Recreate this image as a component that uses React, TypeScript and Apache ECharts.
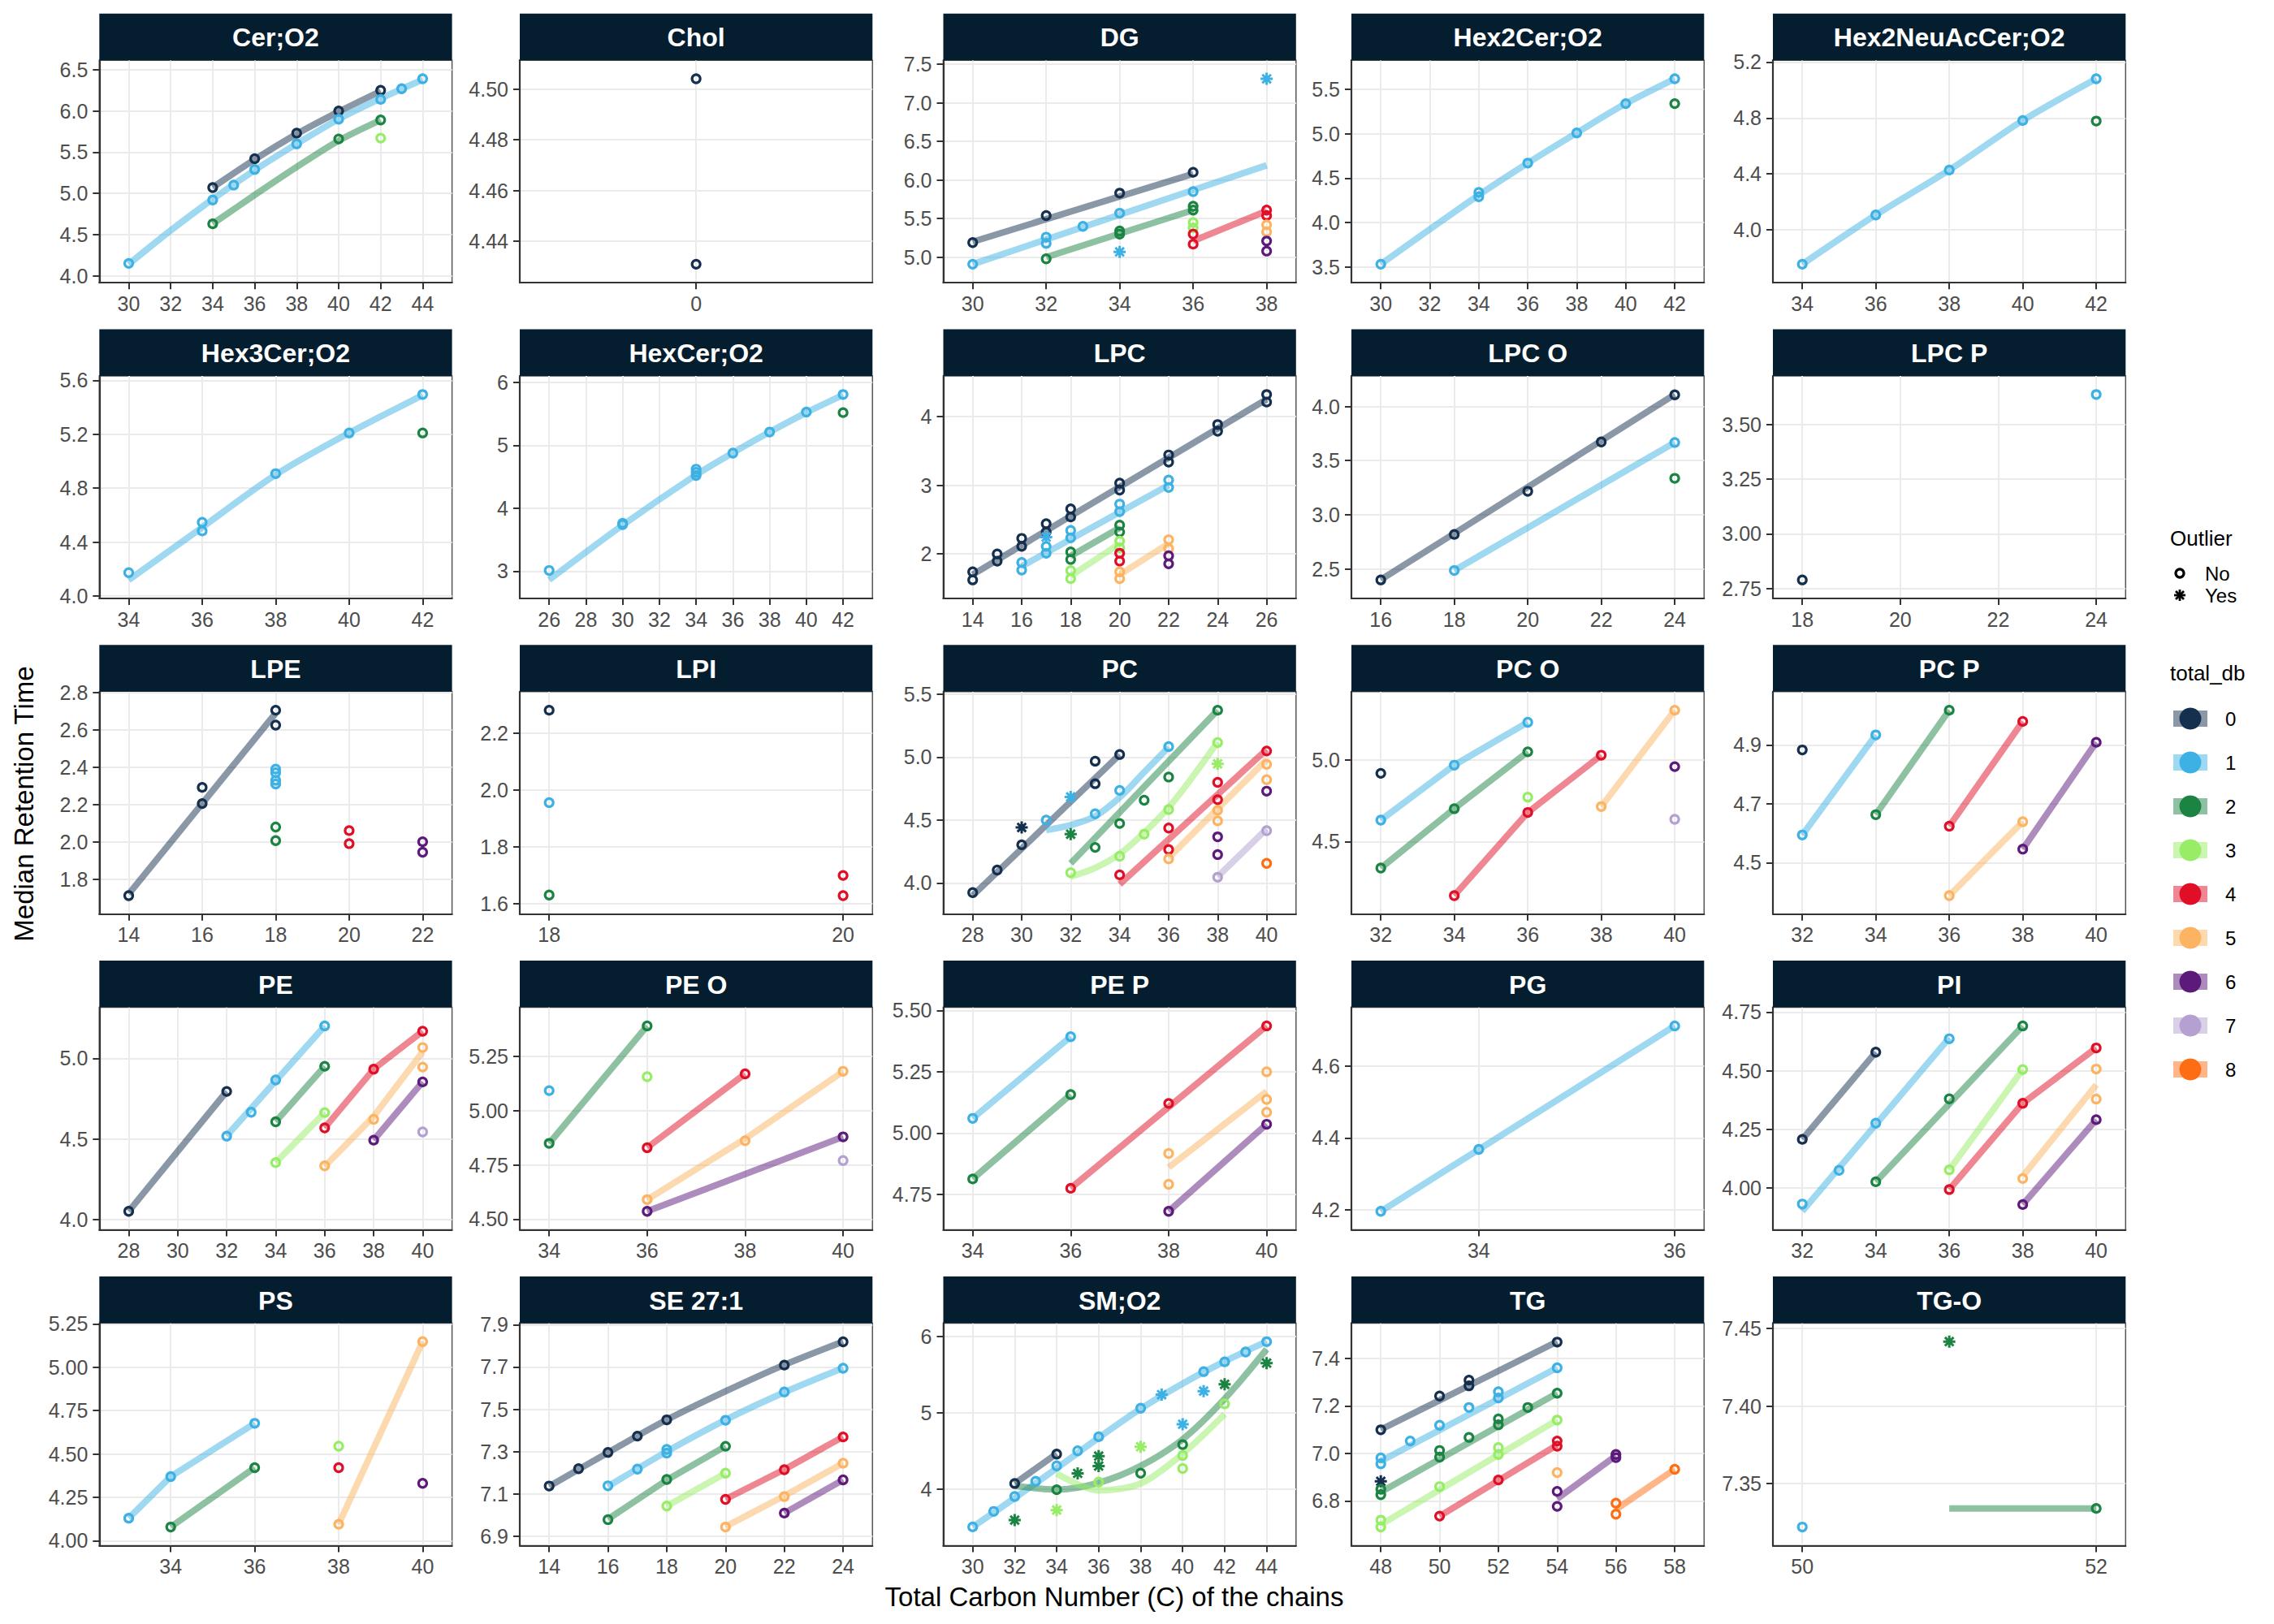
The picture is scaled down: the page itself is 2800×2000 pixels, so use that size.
import React, { useEffect, useRef } from "react";
import * as echarts from "echarts";

// ---------------- data ----------------
const dbColors = ["#152f4f", "#3db1e3", "#1c8443", "#97ed66", "#e00f27", "#fcb462", "#5c1a7b", "#b4a1d1", "#fd6e14"];
const dbLabels = ["0", "1", "2", "3", "4", "5", "6", "7", "8"];

const panelNames = ["Cer;O2", "Chol", "DG", "Hex2Cer;O2", "Hex2NeuAcCer;O2", "Hex3Cer;O2", "HexCer;O2", "LPC", "LPC O", "LPC P", "LPE", "LPI", "PC", "PC O", "PC P", "PE", "PE O", "PE P", "PG", "PI", "PS", "SE 27:1", "SM;O2", "TG", "TG-O"];

// points: [carbon, median RT, total_db, outlier(1=yes)]
const cerO2Points = [[30,4.15,1,0],[34,4.92,1,0],[35,5.10,1,0],[36,5.29,1,0],[38,5.60,1,0],[40,5.90,1,0],[42,6.14,1,0],[43,6.27,1,0],[44,6.39,1,0],[34,5.07,0,0],[36,5.42,0,0],[38,5.73,0,0],[40,6.00,0,0],[42,6.25,0,0],[34,4.63,2,0],[40,5.66,2,0],[42,5.89,2,0],[42,5.67,3,0]];
const cerO2Smooth = [[0,[[34,5.07],[36,5.41],[38,5.72],[40,5.99],[42,6.24]]],[1,[[30,4.14],[32,4.55],[34,4.93],[36,5.28],[38,5.60],[40,5.90],[42,6.15],[44,6.38]]],[2,[[34,4.63],[36,4.98],[38,5.32],[40,5.64],[42,5.89]]]];

const cholPoints = [[0,4.504,0,0],[0,4.431,0,0]];
const cholSmooth = [];

const dgPoints = [[30,5.19,0,0],[32,5.54,0,0],[34,5.83,0,0],[36,6.10,0,0],[30,4.91,1,0],[32,5.26,1,0],[32,5.18,1,0],[33,5.40,1,0],[34,5.57,1,0],[36,5.85,1,0],[34,5.07,1,1],[38,7.31,1,1],[32,4.98,2,0],[34,5.34,2,0],[34,5.30,2,0],[36,5.66,2,0],[36,5.61,2,0],[36,5.45,3,0],[36,5.38,3,0],[36,5.30,4,0],[36,5.17,4,0],[38,5.61,4,0],[38,5.54,4,0],[38,5.42,5,0],[38,5.33,5,0],[38,5.21,6,0],[38,5.08,6,0]];
const dgSmooth = [[0,[[30,5.20],[36,6.08]]],[1,[[30,4.91],[38,6.19]]],[2,[[32,5.00],[36,5.61]]],[4,[[36,5.21],[38,5.60]]]];

const hex2CerPoints = [[30,3.53,1,0],[34,4.34,1,0],[34,4.29,1,0],[36,4.67,1,0],[38,5.01,1,0],[40,5.34,1,0],[42,5.62,1,0],[42,5.34,2,0]];
const hex2CerSmooth = [[1,[[30,3.53],[34,4.31],[36,4.67],[38,5.01],[40,5.34],[42,5.62]]]];

const hex2NeuPoints = [[34,3.755,1,0],[36,4.107,1,0],[38,4.428,1,0],[40,4.782,1,0],[42,5.08,1,0],[42,4.778,2,0]];
const hex2NeuSmooth = [[1,[[34,3.755],[36,4.107],[38,4.428],[40,4.782],[42,5.08]]]];

const hex3CerPoints = [[34,4.174,1,0],[36,4.547,1,0],[36,4.483,1,0],[38,4.908,1,0],[40,5.21,1,0],[42,5.495,1,0],[42,5.21,2,0]];
const hex3CerSmooth = [[1,[[34,4.12],[36,4.51],[38,4.90],[40,5.21],[42,5.49]]]];

const hexCerPoints = [[26,3.01,1,0],[30,3.74,1,0],[30,3.76,1,0],[34,4.62,1,0],[34,4.57,1,0],[34,4.52,1,0],[36,4.876,1,0],[38,5.21,1,0],[40,5.528,1,0],[42,5.807,1,0],[42,5.519,2,0]];
const hexCerSmooth = [[1,[[26,2.86],[30,3.73],[34,4.53],[36,4.88],[38,5.21],[40,5.52],[42,5.80]]]];

const lpcPoints = [[14,1.739,0,0],[14,1.622,0,0],[15,2.0,0,0],[15,1.895,0,0],[16,2.226,0,0],[16,2.11,0,0],[17,2.44,0,0],[17,2.32,0,0],[18,2.655,0,0],[18,2.538,0,0],[20,3.03,0,0],[20,2.93,0,0],[22,3.44,0,0],[22,3.337,0,0],[24,3.883,0,0],[24,3.786,0,0],[26,4.32,0,0],[26,4.21,0,0],[16,1.875,1,0],[16,1.766,1,0],[17,2.11,1,0],[17,2.01,1,0],[17,2.245,1,1],[18,2.343,1,0],[18,2.234,1,0],[20,2.725,1,0],[20,2.616,1,0],[22,3.076,1,0],[22,2.967,1,0],[18,2.03,2,0],[18,1.92,2,0],[20,2.42,2,0],[20,2.32,2,0],[18,1.758,3,0],[18,1.64,3,0],[20,2.187,3,0],[20,2.09,3,0],[20,2.01,4,0],[20,1.895,4,0],[20,1.739,5,0],[20,1.64,5,0],[22,2.207,5,0],[22,2.078,5,0],[22,1.973,6,0],[22,1.856,6,0]];
const lpcSmooth = [[0,[[14,1.70],[26,4.25]]],[1,[[16,1.82],[22,3.00]]],[2,[[18,1.97],[20,2.38]]],[3,[[18,1.68],[20,2.15]]],[5,[[20,1.70],[22,2.15]]]];

const lpcOPoints = [[16,2.398,0,0],[18,2.818,0,0],[20,3.216,0,0],[22,3.672,0,0],[24,4.107,0,0],[18,2.485,1,0],[24,3.667,1,0],[24,3.336,2,0]];
const lpcOSmooth = [[0,[[16,2.40],[24,4.11]]],[1,[[18,2.485],[24,3.667]]]];

const lpcPPoints = [[18,2.79,0,0],[24,3.636,1,0]];
const lpcPSmooth = [];

const lpePoints = [[14,1.711,0,0],[16,2.292,0,0],[16,2.205,0,0],[18,2.706,0,0],[18,2.626,0,0],[18,2.39,1,0],[18,2.37,1,0],[18,2.33,1,0],[18,2.31,1,0],[18,2.079,2,0],[18,2.006,2,0],[20,2.06,4,0],[20,1.99,4,0],[22,2.0,6,0],[22,1.944,6,0]];
const lpeSmooth = [[0,[[14,1.72],[18,2.69]]]];

const lpiPoints = [[18,2.28,0,0],[18,1.955,1,0],[18,1.63,2,0],[20,1.699,4,0],[20,1.628,4,0]];
const lpiSmooth = [];

const pcPoints = [[28,3.924,0,0],[29,4.103,0,0],[30,4.304,0,0],[30,4.441,0,1],[33,4.789,0,0],[33,4.968,0,0],[34,5.021,0,0],[31,4.50,1,0],[32,4.684,1,1],[33,4.55,1,0],[34,4.736,1,0],[36,5.084,1,0],[32,4.388,2,1],[33,4.283,2,0],[34,4.473,2,0],[35,4.658,2,0],[36,4.842,2,0],[38,5.373,2,0],[32,4.082,3,0],[34,4.213,3,0],[35,4.388,3,0],[36,4.584,3,0],[38,5.116,3,0],[38,4.947,3,1],[34,4.065,4,0],[36,4.437,4,0],[36,4.266,4,0],[38,4.80,4,0],[38,4.662,4,0],[40,5.049,4,0],[36,4.192,5,0],[38,4.578,5,0],[38,4.494,5,0],[40,4.943,5,0],[40,4.821,5,0],[38,4.367,6,0],[38,4.226,6,0],[40,4.73,6,0],[38,4.046,7,0],[40,4.416,7,0],[40,4.156,8,0]];
const pcSmooth = [[0,[[28,3.90],[34,5.02]]],[1,[[31,4.42],[32,4.46],[33,4.53],[34,4.68],[35,4.88],[36,5.08]]],[2,[[32,4.156],[38,5.373]]],[3,[[32,4.05],[33,4.12],[34,4.23],[35,4.40],[36,4.60],[37,4.85],[38,5.12]]],[4,[[34,3.99],[40,5.06]]],[5,[[36,4.20],[40,4.98]]],[7,[[38,4.05],[40,4.43]]]];

const pcOPoints = [[32,4.919,0,0],[32,4.632,1,0],[34,4.969,1,0],[36,5.232,1,0],[32,4.338,2,0],[34,4.702,2,0],[36,5.051,2,0],[36,4.773,3,0],[34,4.169,4,0],[36,4.679,4,0],[38,5.03,4,0],[38,4.715,5,0],[40,5.306,5,0],[40,4.96,6,0],[40,4.637,7,0]];
const pcOSmooth = [[1,[[32,4.632],[34,4.969],[36,5.232]]],[2,[[32,4.338],[34,4.702],[36,5.051]]],[4,[[34,4.169],[36,4.679],[38,5.03]]],[5,[[38,4.715],[40,5.306]]]];

const pcPPoints = [[32,4.883,0,0],[32,4.594,1,0],[34,4.934,1,0],[34,4.663,2,0],[36,5.018,2,0],[36,4.624,4,0],[38,4.98,4,0],[36,4.388,5,0],[38,4.639,5,0],[38,4.546,6,0],[40,4.909,6,0]];
const pcPSmooth = [[1,[[32,4.594],[34,4.934]]],[2,[[34,4.663],[36,5.018]]],[4,[[36,4.624],[38,4.98]]],[5,[[36,4.388],[38,4.639]]],[6,[[38,4.546],[40,4.909]]]];

const pePoints = [[28,4.052,0,0],[32,4.795,0,0],[32,4.518,1,0],[33,4.666,1,0],[34,4.866,1,0],[36,5.201,1,0],[34,4.607,2,0],[36,4.951,2,0],[34,4.354,3,0],[36,4.664,3,0],[36,4.569,4,0],[38,4.933,4,0],[40,5.168,4,0],[36,4.334,5,0],[38,4.622,5,0],[40,4.946,5,0],[40,5.067,5,0],[38,4.493,6,0],[40,4.854,6,0],[40,4.544,7,0]];
const peSmooth = [[0,[[28,4.052],[32,4.795]]],[1,[[32,4.52],[36,5.20]]],[2,[[34,4.607],[36,4.951]]],[3,[[34,4.354],[36,4.664]]],[4,[[36,4.569],[38,4.933],[40,5.168]]],[5,[[36,4.33],[38,4.64],[40,5.04]]],[6,[[38,4.493],[40,4.854]]]];

const peOPoints = [[34,5.092,1,0],[34,4.849,2,0],[36,5.39,2,0],[36,5.156,3,0],[36,4.829,4,0],[38,5.169,4,0],[36,4.59,5,0],[38,4.861,5,0],[40,5.181,5,0],[36,4.536,6,0],[40,4.879,6,0],[40,4.77,7,0]];
const peOSmooth = [[2,[[34,4.849],[36,5.39]]],[4,[[36,4.829],[38,5.169]]],[5,[[36,4.59],[38,4.87],[40,5.18]]],[6,[[36,4.536],[40,4.879]]]];

const pePPoints = [[34,5.06,1,0],[36,5.393,1,0],[34,4.813,2,0],[36,5.157,2,0],[36,4.775,4,0],[38,5.121,4,0],[40,5.437,4,0],[38,4.917,5,0],[38,4.791,5,0],[40,5.25,5,0],[40,5.137,5,0],[40,5.085,5,0],[38,4.681,6,0],[40,5.036,6,0]];
const pePSmooth = [[1,[[34,5.06],[36,5.393]]],[2,[[34,4.813],[36,5.157]]],[4,[[36,4.775],[40,5.437]]],[5,[[38,4.86],[40,5.17]]],[6,[[38,4.681],[40,5.036]]]];

const pgPoints = [[33,4.195,1,0],[34,4.368,1,0],[36,4.713,1,0]];
const pgSmooth = [[1,[[33,4.195],[34,4.368],[36,4.713]]]];

const piPoints = [[32,4.207,0,0],[34,4.579,0,0],[32,3.931,1,0],[33,4.075,1,0],[34,4.276,1,0],[36,4.636,1,0],[34,4.026,2,0],[36,4.38,2,0],[38,4.691,2,0],[36,4.077,3,0],[38,4.505,3,0],[36,3.993,4,0],[38,4.361,4,0],[40,4.597,4,0],[38,4.04,5,0],[40,4.507,5,0],[40,4.379,5,0],[38,3.929,6,0],[40,4.291,6,0]];
const piSmooth = [[0,[[32,4.207],[34,4.579]]],[1,[[32,3.90],[36,4.64]]],[2,[[34,4.026],[38,4.691]]],[3,[[36,4.077],[38,4.505]]],[4,[[36,3.993],[38,4.361],[40,4.597]]],[5,[[38,4.05],[40,4.44]]],[6,[[38,3.929],[40,4.291]]]];

const psPoints = [[33,4.13,1,0],[34,4.37,1,0],[36,4.677,1,0],[34,4.079,2,0],[36,4.421,2,0],[38,4.545,3,0],[38,4.421,4,0],[38,4.095,5,0],[40,5.148,5,0],[40,4.331,6,0]];
const psSmooth = [[1,[[33,4.13],[34,4.37],[36,4.677]]],[2,[[34,4.079],[36,4.421]]],[5,[[38,4.095],[40,5.148]]]];

const sePoints = [[14,7.137,0,0],[15,7.219,0,0],[16,7.296,0,0],[17,7.373,0,0],[18,7.45,0,0],[22,7.709,0,0],[24,7.819,0,0],[16,7.138,1,0],[17,7.217,1,0],[18,7.31,1,0],[18,7.293,1,0],[20,7.448,1,0],[22,7.582,1,0],[24,7.694,1,0],[16,6.978,2,0],[18,7.168,2,0],[20,7.325,2,0],[18,7.042,3,0],[20,7.198,3,0],[20,7.074,4,0],[22,7.214,4,0],[24,7.369,4,0],[20,6.943,5,0],[22,7.087,5,0],[24,7.245,5,0],[22,7.009,6,0],[24,7.166,6,0]];
const seSmooth = [[0,[[14,7.135],[16,7.295],[18,7.45],[20,7.585],[22,7.71],[24,7.82]]],[1,[[16,7.135],[18,7.30],[20,7.45],[22,7.58],[24,7.695]]],[2,[[16,6.98],[18,7.165],[20,7.325]]],[3,[[18,7.042],[20,7.198]]],[4,[[20,7.075],[22,7.215],[24,7.37]]],[5,[[20,6.945],[22,7.09],[24,7.245]]],[6,[[22,7.009],[24,7.166]]]];

const smPoints = [[32,4.071,0,0],[34,4.456,0,0],[30,3.502,1,0],[31,3.705,1,0],[32,3.90,1,0],[33,4.10,1,0],[34,4.302,1,0],[35,4.498,1,0],[36,4.683,1,0],[38,5.057,1,0],[41,5.537,1,0],[42,5.665,1,0],[43,5.794,1,0],[44,5.929,1,0],[39,5.235,1,1],[41,5.281,1,1],[40,4.847,1,1],[32,3.591,2,1],[34,3.989,2,0],[35,4.203,2,1],[36,4.43,2,1],[36,4.30,2,1],[38,4.206,2,0],[40,4.58,2,0],[42,5.37,2,1],[44,5.648,2,1],[34,3.722,3,1],[36,4.089,3,0],[38,4.552,3,1],[40,4.438,3,0],[40,4.267,3,0],[42,5.114,3,0]];
const smSmooth = [[0,[[32,4.07],[34,4.46]]],[1,[[30,3.50],[32,3.88],[34,4.27],[36,4.67],[38,5.05],[40,5.38],[42,5.67],[44,5.93]]],[2,[[32,4.04],[34,3.99],[36,4.08],[38,4.30],[40,4.65],[42,5.18],[44,5.83]]],[3,[[34,4.20],[36,3.98],[38,4.07],[40,4.46],[42,4.98]]]];

const tgPoints = [[48,7.099,0,0],[48,6.882,0,1],[50,7.241,0,0],[51,7.308,0,0],[51,7.284,0,0],[54,7.468,0,0],[48,6.981,1,0],[48,6.956,1,0],[49,7.052,1,0],[50,7.118,1,0],[51,7.193,1,0],[52,7.259,1,0],[52,7.233,1,0],[54,7.36,1,0],[48,6.849,2,0],[48,6.826,2,0],[50,7.012,2,0],[50,6.984,2,0],[51,7.067,2,0],[52,7.145,2,0],[52,7.12,2,0],[53,7.193,2,0],[54,7.253,2,0],[48,6.719,3,0],[48,6.69,3,0],[50,6.86,3,0],[52,7.024,3,0],[52,6.995,3,0],[54,7.14,3,0],[50,6.736,4,0],[52,6.888,4,0],[54,7.052,4,0],[54,7.03,4,0],[54,6.919,5,0],[54,6.84,6,0],[54,6.777,6,0],[56,6.995,6,0],[56,6.982,6,0],[56,6.79,8,0],[56,6.744,8,0],[58,6.933,8,0]];
const tgSmooth = [[0,[[48,7.10],[54,7.47]]],[1,[[48,6.967],[54,7.36]]],[2,[[48,6.837],[54,7.253]]],[3,[[48,6.70],[54,7.14]]],[4,[[50,6.736],[54,7.035]]],[6,[[54,6.809],[56,6.99]]],[8,[[56,6.764],[58,6.933]]]];

const tgOPoints = [[50,7.322,1,0],[51,7.4416,2,1],[52,7.334,2,0]];
const tgOSmooth = [[2,[[51,7.334],[52,7.334]]]];

// tick labels per panel
const xTickLabels = [
  ["30","32","34","36","38","40","42","44"], ["0"], ["30","32","34","36","38"], ["30","32","34","36","38","40","42"], ["34","36","38","40","42"],
  ["34","36","38","40","42"], ["26","28","30","32","34","36","38","40","42"], ["14","16","18","20","22","24","26"], ["16","18","20","22","24"], ["18","20","22","24"],
  ["14","16","18","20","22"], ["18","20"], ["28","30","32","34","36","38","40"], ["32","34","36","38","40"], ["32","34","36","38","40"],
  ["28","30","32","34","36","38","40"], ["34","36","38","40"], ["34","36","38","40"], ["34","36"], ["32","34","36","38","40"],
  ["34","36","38","40"], ["14","16","18","20","22","24"], ["30","32","34","36","38","40","42","44"], ["48","50","52","54","56","58"], ["50","52"],
];
const yTickLabels = [
  ["4.0","4.5","5.0","5.5","6.0","6.5"], ["4.44","4.46","4.48","4.50"], ["5.0","5.5","6.0","6.5","7.0","7.5"], ["3.5","4.0","4.5","5.0","5.5"], ["4.0","4.4","4.8","5.2"],
  ["4.0","4.4","4.8","5.2","5.6"], ["3","4","5","6"], ["2","3","4"], ["2.5","3.0","3.5","4.0"], ["2.75","3.00","3.25","3.50"],
  ["1.8","2.0","2.2","2.4","2.6","2.8"], ["1.6","1.8","2.0","2.2"], ["4.0","4.5","5.0","5.5"], ["4.5","5.0"], ["4.5","4.7","4.9"],
  ["4.0","4.5","5.0"], ["4.50","4.75","5.00","5.25"], ["4.75","5.00","5.25","5.50"], ["4.2","4.4","4.6"], ["4.00","4.25","4.50","4.75"],
  ["4.00","4.25","4.50","4.75","5.00","5.25"], ["6.9","7.1","7.3","7.5","7.7","7.9"], ["4","5","6"], ["6.8","7.0","7.2","7.4"], ["7.35","7.40","7.45"],
];

const panelPoints = [cerO2Points, cholPoints, dgPoints, hex2CerPoints, hex2NeuPoints, hex3CerPoints, hexCerPoints, lpcPoints, lpcOPoints, lpcPPoints, lpePoints, lpiPoints, pcPoints, pcOPoints, pcPPoints, pePoints, peOPoints, pePPoints, pgPoints, piPoints, psPoints, sePoints, smPoints, tgPoints, tgOPoints];
const panelSmooths = [cerO2Smooth, cholSmooth, dgSmooth, hex2CerSmooth, hex2NeuSmooth, hex3CerSmooth, hexCerSmooth, lpcSmooth, lpcOSmooth, lpcPSmooth, lpeSmooth, lpiSmooth, pcSmooth, pcOSmooth, pcPSmooth, peSmooth, peOSmooth, pePSmooth, pgSmooth, piSmooth, psSmooth, seSmooth, smSmooth, tgSmooth, tgOSmooth];

// ---------------- layout / style ----------------
const FONT = "'Liberation Sans', Arial, Helvetica, sans-serif";
const COL_LEFT = [122.3, 640, 1161.5, 1664, 2183];
const PANEL_W = 434.3;
const STRIP_H = 57.5;
const PANEL_H = 274;
const rowTop = (r: number) => 16.7 + r * 388.8;
const STRIP_FILL = "#041d2f";
const ASTERISK = "path://M40,0L60,0L60,100L40,100Z M0,40L100,40L100,60L0,60Z M21.71,7.57L92.43,78.29L78.29,92.43L7.57,21.71Z M78.29,7.57L92.43,21.71L21.71,92.43L7.57,78.29Z";

function rgba(hex: string, a: number) {
  const n = parseInt(hex.slice(1), 16);
  return `rgba(${(n >> 16) & 255},${(n >> 8) & 255},${n & 255},${a})`;
}

function expandRange(vals: number[]) {
  let lo = Math.min(...vals), hi = Math.max(...vals);
  if (hi - lo < 1e-12) return [lo - 0.5, hi + 0.5];
  const d = hi - lo;
  return [lo - 0.1 * d, hi + 0.1 * d];
}

function buildOption() {
  const grid: any[] = [], xAxis: any[] = [], yAxis: any[] = [], series: any[] = [], graphic: any[] = [];

  panelNames.forEach((name, i) => {
    const r = Math.floor(i / 5), c = i % 5;
    const left = COL_LEFT[c];
    const sTop = rowTop(r);
    const top = sTop + STRIP_H;
    const pts = panelPoints[i] as number[][];
    const sm = panelSmooths[i] as any[];
    const xs = pts.map((p) => p[0]), ys = pts.map((p) => p[1]);
    sm.forEach((s: any) => s[1].forEach((q: number[]) => { xs.push(q[0]); ys.push(q[1]); }));
    const [xmin, xmax] = expandRange(xs);
    const [ymin, ymax] = expandRange(ys);
    const xl = xTickLabels[i], yl = yTickLabels[i];
    const xv = xl.map(parseFloat), yv = yl.map(parseFloat);
    const fmt = (labels: string[]) => (v: number) => {
      const f = labels.find((l) => Math.abs(parseFloat(l) - v) < 1e-7);
      return f !== undefined ? f : String(v);
    };

    grid.push({ left, top, width: PANEL_W, height: PANEL_H, show: true, borderColor: "#555555", borderWidth: 1.5, backgroundColor: "#ffffff", containLabel: false });

    const axisCommon = {
      type: "value",
      gridIndex: i,
      axisLine: { show: true, onZero: false, lineStyle: { color: "#333333", width: 2.2 } },
      splitLine: { show: true, lineStyle: { color: "#ebebeb", width: 2 } },
    };
    xAxis.push({
      ...axisCommon, min: xmin, max: xmax,
      axisTick: { show: true, length: 8, customValues: xv, lineStyle: { color: "#333333", width: 2 } },
      axisLabel: { show: true, customValues: xv, margin: 13, fontSize: 25, color: "#4d4d4d", fontFamily: FONT, formatter: fmt(xl) },
    });
    yAxis.push({
      ...axisCommon, min: ymin, max: ymax,
      axisTick: { show: true, length: 8, customValues: yv, lineStyle: { color: "#333333", width: 2 } },
      axisLabel: { show: true, customValues: yv, margin: 14, fontSize: 25, color: "#4d4d4d", fontFamily: FONT, formatter: fmt(yl) },
    });

    // smooth lines
    sm.forEach((s: any) => {
      const db = s[0];
      series.push({
        type: "line", xAxisIndex: i, yAxisIndex: i, data: s[1], showSymbol: false, symbol: "none",
        smooth: s[1].length > 3 ? 0.3 : false, silent: true, z: 2,
        lineStyle: { color: dbColors[db], width: 8, opacity: 0.5, cap: "butt", join: "round" },
      });
    });

    // points grouped by db and outlier
    for (let db = 0; db < dbColors.length; db++) {
      for (let out = 0; out < 2; out++) {
        const data = pts.filter((p) => p[2] === db && p[3] === out).map((p) => [p[0], p[1]]);
        if (!data.length) continue;
        series.push({
          type: "scatter", xAxisIndex: i, yAxisIndex: i, data, silent: true, z: 3,
          symbol: out ? ASTERISK : "circle",
          symbolSize: out ? 15 : 10,
          itemStyle: out
            ? { color: dbColors[db], opacity: 1, borderWidth: 0 }
            : { color: "rgba(255,255,255,0)", borderColor: dbColors[db], borderWidth: 3.2, opacity: 1 },
        });
      }
    }

    // strip
    graphic.push({ type: "rect", silent: true, shape: { x: left, y: sTop, width: PANEL_W, height: STRIP_H }, style: { fill: STRIP_FILL }, z: 10 });
    graphic.push({
      type: "text", silent: true, x: left + PANEL_W / 2, y: sTop + STRIP_H / 2 + 1, z: 11,
      style: { text: name, fill: "#ffffff", font: `bold 32px ${FONT}`, textAlign: "center", textVerticalAlign: "middle" },
    });
  });

  // axis titles
  graphic.push({
    type: "text", silent: true, x: 29, y: 990, rotation: Math.PI / 2,
    style: { text: "Median Retention Time", fill: "#000000", font: `33px ${FONT}`, textAlign: "center", textVerticalAlign: "middle" },
  });
  graphic.push({
    type: "text", silent: true, x: 1372, y: 1966,
    style: { text: "Total Carbon Number (C) of the chains", fill: "#000000", font: `33px ${FONT}`, textAlign: "center", textVerticalAlign: "middle" },
  });

  // legend: Outlier
  graphic.push({ type: "text", silent: true, x: 2672, y: 663, style: { text: "Outlier", fill: "#000", font: `26px ${FONT}`, textVerticalAlign: "middle" } });
  graphic.push({ type: "circle", silent: true, shape: { cx: 2684, cy: 706, r: 5 }, style: { fill: "none", stroke: "#000", lineWidth: 3.2 } });
  graphic.push({ type: "text", silent: true, x: 2715, y: 706, style: { text: "No", fill: "#000", font: `24px ${FONT}`, textVerticalAlign: "middle" } });
  const ax = 2684, ay = 733, ar = 7, ad = 5;
  [[0, -ar, 0, ar], [-ar, 0, ar, 0], [-ad, -ad, ad, ad], [-ad, ad, ad, -ad]].forEach((l) => {
    graphic.push({ type: "line", silent: true, shape: { x1: ax + l[0], y1: ay + l[1], x2: ax + l[2], y2: ay + l[3] }, style: { stroke: "#000", lineWidth: 2.8 } });
  });
  graphic.push({ type: "text", silent: true, x: 2715, y: 733, style: { text: "Yes", fill: "#000", font: `24px ${FONT}`, textVerticalAlign: "middle" } });

  // legend: total_db
  graphic.push({ type: "text", silent: true, x: 2672, y: 829, style: { text: "total_db", fill: "#000", font: `26px ${FONT}`, textVerticalAlign: "middle" } });
  dbLabels.forEach((lab, k) => {
    const y = 885 + k * 54;
    graphic.push({ type: "rect", silent: true, shape: { x: 2676, y: y - 10, width: 42, height: 20 }, style: { fill: rgba(dbColors[k], 0.5) } });
    graphic.push({ type: "circle", silent: true, shape: { cx: 2697, cy: y, r: 13.5 }, style: { fill: dbColors[k] } });
    graphic.push({ type: "text", silent: true, x: 2740, y, style: { text: lab, fill: "#000", font: `24px ${FONT}`, textVerticalAlign: "middle" } });
  });

  return {
    animation: false,
    backgroundColor: "#ffffff",
    textStyle: { fontFamily: FONT },
    grid, xAxis, yAxis, series,
    graphic: { elements: graphic },
  };
}

export default function App() {
  const ref = useRef<HTMLDivElement>(null);
  useEffect(() => {
    document.body.style.margin = "0";
    if (!ref.current) return;
    const chart = echarts.init(ref.current, null, { renderer: "svg" });
    chart.setOption(buildOption() as any);
    return () => chart.dispose();
  }, []);
  return <div ref={ref} style={{ width: 2800, height: 2000, background: "#fff" }} />;
}
